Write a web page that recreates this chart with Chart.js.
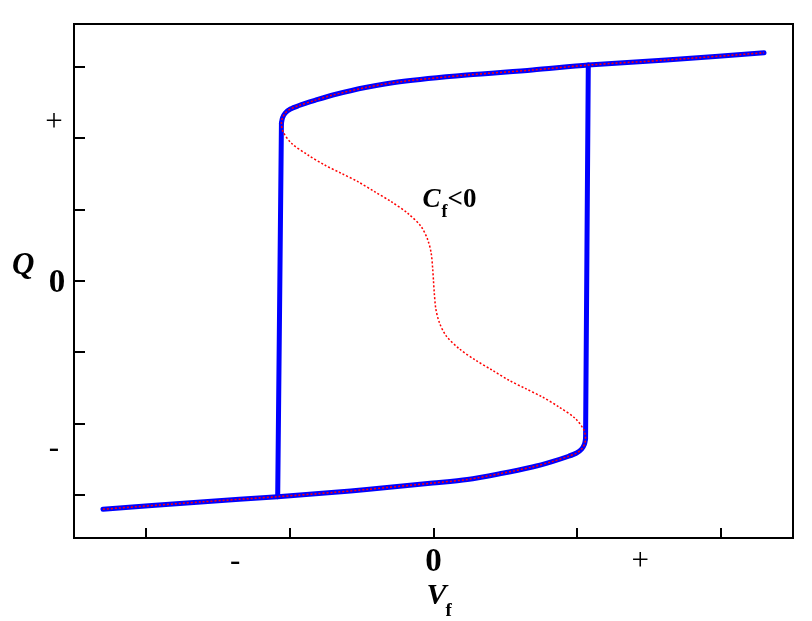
<!DOCTYPE html>
<html>
<head>
<meta charset="utf-8">
<style>
  html, body { margin: 0; padding: 0; background: #fff; }
  #wrap { width: 812px; height: 621px; }
</style>
<script src="https://cdn.jsdelivr.net/npm/chart.js@4/dist/chart.umd.min.js"></script>
</head>
<body>
<div id="wrap"><canvas id="chart"></canvas></div>
<script>
// upper stable branch, left turning point -> right end
const upperX = [-2.115, -2.10, -2.06, -1.99, -1.88, -1.65, -1.40, -0.93, -0.47, 0.46, 1.375, 2.153, 3.236, 4.597];
const upperY = [2.209, 2.285, 2.355, 2.41, 2.455, 2.53, 2.605, 2.713, 2.791, 2.885, 2.955, 3.025, 3.095, 3.197];

// lower stable branch, left end -> right turning point
const lowerX = [-4.597, -3.236, -2.167, -1.375, -0.93, -0.01, 0.47, 0.92, 1.375, 1.65, 1.88, 1.99, 2.06, 2.10, 2.115];
const lowerY = [-3.197, -3.095, -3.021, -2.96, -2.92, -2.83, -2.78, -2.70, -2.605, -2.53, -2.455, -2.41, -2.355, -2.285, -2.209];

// unstable (Cf<0) branch, left turning point -> right turning point
const middleX = [-2.115, -2.093, -1.976, -1.746, -1.514, -1.282, -1.051, -0.819, -0.588, -0.357, -0.171, -0.079, -0.032, -0.01, 0,
                 0.01, 0.032, 0.079, 0.171, 0.357, 0.588, 0.819, 1.051, 1.282, 1.514, 1.746, 1.976, 2.093, 2.115];
const middleY = [2.209, 2.091, 1.929, 1.765, 1.625, 1.508, 1.391, 1.251, 1.111, 0.948, 0.761, 0.574, 0.388, 0.154, 0,
                 -0.154, -0.388, -0.574, -0.761, -0.948, -1.111, -1.251, -1.391, -1.508, -1.625, -1.765, -1.929, -2.091, -2.209];

// hysteresis jumps
const jumpLeftX = [-2.115, -2.167];
const jumpLeftY = [2.209, -3.021];
const jumpRightX = [2.115, 2.153];
const jumpRightY = [-2.209, 3.025];

// axes
const xMin = -5, xMax = 5, yMin = -3.6, yMax = 3.6;
const xTicks = [-4, -2, 0, 2, 4];
const yTicks = [-3, -2, -1, 0, 1, 2, 3];
const xTickLabels = ['-', '0', '+'];
const xTickLabelAt = [-2.76, 0, 2.875];
const yTickLabels = ['+', '0', '-'];
const yTickLabelAt = [2.21, -0.03, -2.35];

function pts(xs, ys) {
    return xs.map((x, i) => ({ x: x, y: ys[i] }));
}

const blue = '#0000ff';
const red = '#ff0000';

const sCurve = pts(lowerX, lowerY)
    .concat(pts(middleX, middleY).reverse().slice(1))
    .concat(pts(upperX, upperY).slice(1));

function blueSet(data) {
    return {
        data: data,
        borderColor: blue,
        borderWidth: 5,
        pointRadius: 0,
        showLine: true,
        tension: 0.3,
        borderCapStyle: 'round',
        borderJoinStyle: 'round',
        order: 2
    };
}

// draws frame, inward ticks and all text labels
const decorations = {
    id: 'decorations',
    afterDraw(chart) {
        const ctx = chart.ctx;
        const xs = chart.scales.x, ys = chart.scales.y;
        const a = chart.chartArea;
        ctx.save();
        ctx.strokeStyle = '#000';
        ctx.lineWidth = 2;
        ctx.strokeRect(a.left, a.top, a.right - a.left, a.bottom - a.top);

        ctx.beginPath();
        xTicks.forEach(v => {
            const px = Math.round(xs.getPixelForValue(v));
            ctx.moveTo(px, a.bottom);
            ctx.lineTo(px, a.bottom - 10);
        });
        yTicks.forEach(v => {
            const py = Math.round(ys.getPixelForValue(v));
            ctx.moveTo(a.left, py);
            ctx.lineTo(a.left + 11, py);
        });
        ctx.stroke();

        ctx.fillStyle = '#000';
        ctx.textAlign = 'center';
        ctx.textBaseline = 'middle';
        const signFont = '31px "Liberation Serif", serif';
        const zeroFont = 'bold 33px "Liberation Serif", serif';

        xTickLabels.forEach((t, i) => {
            const px = xs.getPixelForValue(xTickLabelAt[i]);
            ctx.font = t === '0' ? zeroFont : signFont;
            ctx.fillText(t, px, a.bottom + 24);
        });
        yTickLabels.forEach((t, i) => {
            const py = ys.getPixelForValue(yTickLabelAt[i]);
            ctx.font = t === '0' ? zeroFont : signFont;
            ctx.fillText(t, t === '0' ? 57 : 54, py);
        });

        // axis titles
        ctx.textAlign = 'left';
        ctx.textBaseline = 'alphabetic';
        ctx.font = 'bold italic 31px "Liberation Serif", serif';
        ctx.fillText('Q', 12, 274);

        const vx = xs.getPixelForValue(0) - 7;
        ctx.font = 'bold italic 30px "Liberation Serif", serif';
        ctx.fillText('V', vx, 604);
        ctx.font = 'bold 19px "Liberation Serif", serif';
        ctx.fillText('f', vx + 19, 616);

        // branch label
        const cx = xs.getPixelForValue(-0.153);
        const cy = ys.getPixelForValue(1.036);
        ctx.font = 'bold italic 27px "Liberation Serif", serif';
        ctx.fillText('C', cx, cy);
        ctx.font = 'bold 18px "Liberation Serif", serif';
        ctx.fillText('f', cx + 19, cy + 10);
        ctx.font = 'bold 27px "Liberation Serif", serif';
        ctx.fillText('<0', cx + 25, cy);
        ctx.restore();
    }
};

new Chart(document.getElementById('chart'), {
    type: 'scatter',
    data: {
        datasets: [
            blueSet(pts(lowerX, lowerY)),
            blueSet(pts(upperX, upperY)),
            blueSet(pts(jumpLeftX, jumpLeftY)),
            blueSet(pts(jumpRightX, jumpRightY)),
            {
                data: sCurve,
                borderColor: red,
                borderWidth: 1.5,
                borderDash: [2, 2],
                pointRadius: 0,
                showLine: true,
                tension: 0.3,
                order: 1
            }
        ]
    },
    options: {
        responsive: true,
        maintainAspectRatio: false,
        animation: false,
        layout: { padding: { left: 74, top: 24, right: 19, bottom: 83 } },
        plugins: { legend: { display: false }, tooltip: { enabled: false } },
        scales: {
            x: { type: 'linear', display: false, min: xMin, max: xMax },
            y: { type: 'linear', display: false, min: yMin, max: yMax }
        }
    },
    plugins: [decorations]
});
</script>
</body>
</html>
